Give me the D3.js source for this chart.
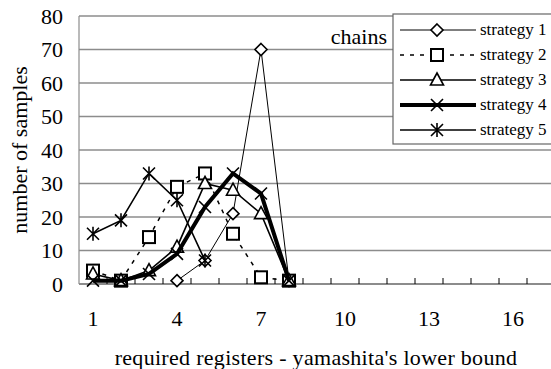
<!DOCTYPE html>
<html>
<head>
<meta charset="utf-8">
<script src="https://cdn.jsdelivr.net/npm/d3@7"></script>
<style>
  body { margin: 0; background: #fff; }
  svg text { font-family: "Liberation Serif", "DejaVu Serif", serif; }
</style>
</head>
<body>
<svg id="chart" width="551" height="369"></svg>
<script>
// categories on the x axis
const categories = d3.range(1, 18);
const tickLabels = [1, 4, 7, 10, 13, 16];
const yTicks = [0, 10, 20, 30, 40, 50, 60, 70, 80];

// samples per strategy (null = no point)
const strategy1 = [null, null, null, 1, 7, 21, 70, 1];
const strategy2 = [4, 1, 14, 29, 33, 15, 2, 1];
const strategy3 = [3, 1, 4, 11, 30, 28, 21, 1];
const strategy4 = [1, 1, 3, 9, 23, 33, 27, 1];
const strategy5 = [15, 19, 33, 25, 7];
const seriesNames = ["strategy 1", "strategy 2", "strategy 3", "strategy 4", "strategy 5"];

const seriesValues = [strategy1, strategy2, strategy3, strategy4, strategy5];
const styles = [
    { width: 1, dash: null, marker: "diamond" },
    { width: 1.5, dash: "4,6", marker: "square" },
    { width: 1.6, dash: null, marker: "triangle" },
    { width: 4, dash: null, marker: "cross" },
    { width: 1.6, dash: null, marker: "asterisk" }
];

const svg = d3.select("#chart");
const plotLeft = 79, plotTop = 16, plotBottom = 284, band = 28;
const serif = "'Liberation Serif', 'DejaVu Serif', serif";

const x = d3.scaleBand()
    .domain(categories)
    .range([plotLeft, plotLeft + band * categories.length]);
const y = d3.scaleLinear().domain([0, 80]).range([plotBottom, plotTop]);

// gridlines
svg.append("g").selectAll("line")
    .data(yTicks.slice(1))
    .enter().append("line")
    .attr("x1", plotLeft).attr("x2", 551)
    .attr("y1", d => y(d)).attr("y2", d => y(d))
    .style("stroke", "#8c8c8c").style("stroke-width", 1.5);

// y axis line + labels
svg.append("line")
    .attr("x1", plotLeft).attr("x2", plotLeft).attr("y1", plotTop).attr("y2", plotBottom)
    .style("stroke", "#8c8c8c").style("stroke-width", 1.2);
svg.append("g").selectAll("text")
    .data(yTicks)
    .enter().append("text")
    .attr("x", 63).attr("y", d => y(d)).attr("dy", "0.35em")
    .attr("text-anchor", "end")
    .attr("font-family", serif)
    .style("font-size", "22px")
    .text(d => d);

// x axis with ticks between categories
const xAxis = svg.append("g");
xAxis.append("line")
    .attr("x1", plotLeft).attr("x2", 551).attr("y1", plotBottom).attr("y2", plotBottom)
    .style("stroke", "#8c8c8c").style("stroke-width", 2);
xAxis.selectAll(".tick")
    .data(categories)
    .enter().append("line")
    .attr("x1", d => x(d) + band).attr("x2", d => x(d) + band)
    .attr("y1", plotBottom).attr("y2", plotBottom - 6)
    .style("stroke", "#000").style("stroke-width", 1);
xAxis.selectAll("text")
    .data(tickLabels)
    .enter().append("text")
    .attr("x", d => x(d) + band / 2).attr("y", 326)
    .attr("text-anchor", "middle")
    .attr("font-family", serif)
    .style("font-size", "22px")
    .text(d => d);

// axis titles
svg.append("text")
    .attr("x", 316).attr("y", 365)
    .attr("text-anchor", "middle")
    .attr("font-family", serif)
    .style("font-size", "22px")
    .style("letter-spacing", "0.3px")
    .text("required registers - yamashita's lower bound");
svg.append("text")
    .attr("transform", "translate(27,150) rotate(-90)")
    .attr("text-anchor", "middle")
    .attr("font-family", serif)
    .style("font-size", "22px")
    .text("number of samples");

// marker drawing
function drawMarker(g, type, cx, cy) {
    if (type === "diamond") {
        g.append("path")
            .attr("d", `M${cx},${cy - 6}L${cx + 6},${cy}L${cx},${cy + 6}L${cx - 6},${cy}Z`)
            .style("fill", "#fff").style("stroke", "#000").style("stroke-width", 1.6);
    } else if (type === "square") {
        g.append("rect")
            .attr("x", cx - 6).attr("y", cy - 6).attr("width", 12).attr("height", 12)
            .style("fill", "#fff").style("stroke", "#000").style("stroke-width", 2);
    } else if (type === "triangle") {
        g.append("path")
            .attr("d", `M${cx},${cy - 7}L${cx + 6.5},${cy + 5}L${cx - 6.5},${cy + 5}Z`)
            .style("fill", "#fff").style("stroke", "#000").style("stroke-width", 1.6);
    } else if (type === "cross") {
        g.append("path")
            .attr("d", `M${cx - 6},${cy - 6}L${cx + 6},${cy + 6}M${cx - 6},${cy + 6}L${cx + 6},${cy - 6}`)
            .style("stroke", "#000").style("stroke-width", 1.6);
    } else {
        g.append("path")
            .attr("d", `M${cx - 6},${cy - 6}L${cx + 6},${cy + 6}M${cx - 6},${cy + 6}L${cx + 6},${cy - 6}M${cx},${cy - 7}L${cx},${cy + 7}`)
            .style("stroke", "#000").style("stroke-width", 1.6);
    }
}

// series lines
const line = d3.line()
    .defined(d => d.v !== null)
    .x(d => x(d.c) + band / 2)
    .y(d => y(d.v));

seriesValues.forEach((vals, i) => {
    const st = styles[i];
    const pts = vals.map((v, j) => ({ c: categories[j], v: v }));
    const g = svg.append("g");
    g.append("path")
        .datum(pts)
        .attr("d", line)
        .style("fill", "none")
        .style("stroke", "#000")
        .style("stroke-width", st.width)
        .style("stroke-dasharray", st.dash);
    pts.filter(d => d.v !== null).forEach(d => drawMarker(g, st.marker, x(d.c) + band / 2, y(d.v)));
});

// "chains" label
svg.append("text")
    .attr("x", 387).attr("y", 44)
    .attr("text-anchor", "end")
    .attr("font-family", serif)
    .style("font-size", "22px")
    .text("chains");

// legend
const legend = svg.append("g");
legend.append("rect")
    .attr("x", 393).attr("y", 14).attr("width", 170).attr("height", 130)
    .style("fill", "#fff").style("stroke", "#666").style("stroke-width", 1.2);
seriesNames.forEach((name, i) => {
    const st = styles[i];
    const ly = 30 + i * 25;
    legend.append("line")
        .attr("x1", 400).attr("x2", 476).attr("y1", ly).attr("y2", ly)
        .style("stroke", "#000")
        .style("stroke-width", st.width)
        .style("stroke-dasharray", st.dash);
    drawMarker(legend, st.marker, 437, ly);
    legend.append("text")
        .attr("x", 480).attr("y", ly).attr("dy", "0.32em")
        .attr("font-family", serif)
        .style("font-size", "17px")
        .text(name);
});
</script>
</body>
</html>
